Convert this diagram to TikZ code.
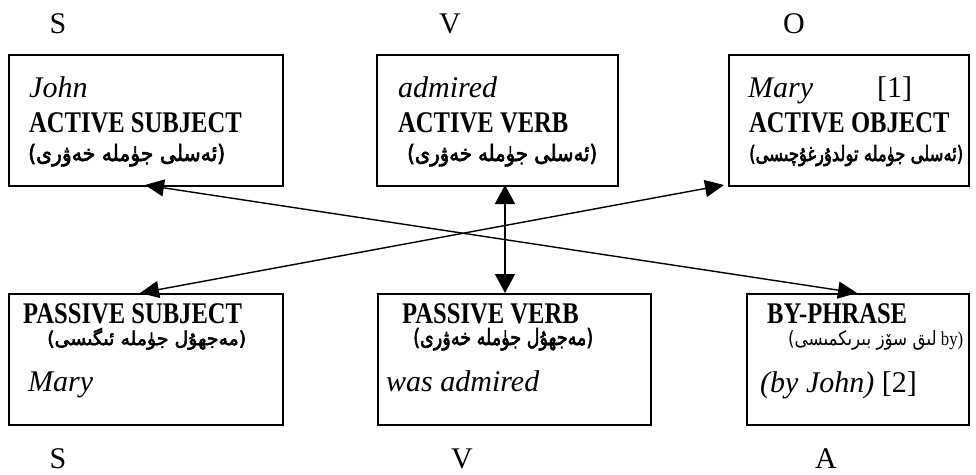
\documentclass[tikz,border=0pt]{standalone}
\usepackage{fontspec}
\usepackage{graphicx}
\usetikzlibrary{arrows.meta}
\setmainfont{Liberation Serif}
\newfontfamily\hdf[FakeStretch=0.82]{Liberation Serif}
\newfontfamily\arb[Script=Arabic]{DejaVu Sans}
\newfontfamily\arbb[Script=Arabic,FakeBold=3]{DejaVu Sans}
\newfontfamily\parb[FakeBold=3]{DejaVu Sans}
\newfontfamily\parn{DejaVu Sans}
\TeXXeTstate=1
\begin{document}
\begin{tikzpicture}[x=1pt,y=-1pt,
  box/.style={draw, line width=1.6pt, anchor=north west, inner sep=0pt},
  txt/.style={anchor=base west, inner sep=0pt},
  lbl/.style={anchor=base, inner sep=0pt, font=\fontsize{30}{36}\selectfont},
  itx/.style={txt, font=\fontsize{30}{36}\selectfont\itshape},
  rmx/.style={txt, font=\fontsize{30}{36}\selectfont},
  hdx/.style={txt, font=\fontsize{30}{36}\selectfont\hdf\bfseries},
  conn/.style={line width=1.4pt, {Triangle[length=19pt,width=17pt]}-{Triangle[length=19pt,width=17pt]}},
  vconn/.style={line width=1.4pt, {Triangle[length=19pt,width=20pt]}-{Triangle[length=19pt,width=20pt]}}
]
\useasboundingbox (0,0) rectangle (976,474);
% labels
\node[lbl] (lS) at (58,33) {S};
\node[lbl] (lV) at (450,33) {V};
\node[lbl] (lO) at (794,33) {O};
\node[lbl] (bS) at (58,468) {S};
\node[lbl] (bV) at (462,468) {V};
\node[lbl] (bA) at (826,468) {A};
% boxes
\node[box, minimum width=274pt, minimum height=131pt] (tl) at (8,54) {};
\node[box, minimum width=241pt, minimum height=131pt] (tm) at (376,54) {};
\node[box, minimum width=240pt, minimum height=131pt] (tr) at (728,54) {};
\node[box, minimum width=274pt, minimum height=131pt] (bl) at (8,293) {};
\node[box, minimum width=273pt, minimum height=131pt] (bm) at (377,293) {};
\node[box, minimum width=222pt, minimum height=131pt] (br) at (746,293) {};
% top-left
\node[itx] (tl1) at (29,97) {John};
\node[hdx] (tl2) at (29,132) {ACTIVE SUBJECT};
\node[txt] (tl3) at (28,161) {\resizebox{197pt}{17pt}{\parb(\arbb\beginR ئەسلى جۈملە خەۋرى\endR\parb)}};
% top-middle
\node[itx] (tm1) at (398,97) {admired};
\node[hdx] (tm2) at (398,132) {ACTIVE VERB};
\node[txt] (tm3) at (407,161) {\resizebox{190pt}{17pt}{\parb(\arbb\beginR ئەسلى جۈملە خەۋرى\endR\parb)}};
% top-right
\node[itx] (tr1) at (748,97) {Mary};
\node[rmx] (tr1b) at (877,97) {[1]};
\node[hdx] (tr2) at (749,132) {ACTIVE OBJECT};
\node[txt] (tr3) at (749,161) {\resizebox{214pt}{16pt}{\parb(\arbb\beginR ئەسلى جۈملە تولدۇرغۇچىسى\endR\parb)}};
% bottom-left
\node[hdx] (bl1) at (23,323) {PASSIVE SUBJECT};
\node[txt] (bl2) at (47,345) {\resizebox{199pt}{17pt}{\parb(\arbb\beginR مەجھۇل جۈملە ئىگىسى\endR\parb)}};
\node[itx] (bl3) at (28,391) {Mary};
% bottom-middle
\node[hdx] (bm1) at (402,323) {PASSIVE VERB};
\node[txt] (bm2) at (413,345) {\resizebox{180pt}{17pt}{\parb(\arbb\beginR مەجھۇل جۈملە خەۋرى\endR\parb)}};
\node[itx] (bm3) at (386,391) {was admired};
% bottom-right
\node[hdx] (br1) at (767,323) {BY-PHRASE};
\node[txt] (br2) at (788,345) {\resizebox{175pt}{15pt}{\parn(\arb\beginR لىق سۆز بىرىكمىسى\endR\rmfamily{} by)}};
\node[itx] (br3) at (760,392) {(by John)\ \upshape[2]};
% connectors
\coordinate (c1) at (145,185);
\coordinate (c2) at (857,293);
\coordinate (c3) at (140,293);
\coordinate (c4) at (724,185);
\coordinate (v1) at (505,185);
\coordinate (v2) at (505,293);
\draw[conn] (c1) -- (c2);
\draw[conn] (c3) -- (c4);
\draw[vconn] (v1) -- (v2);
\end{tikzpicture}
\end{document}
